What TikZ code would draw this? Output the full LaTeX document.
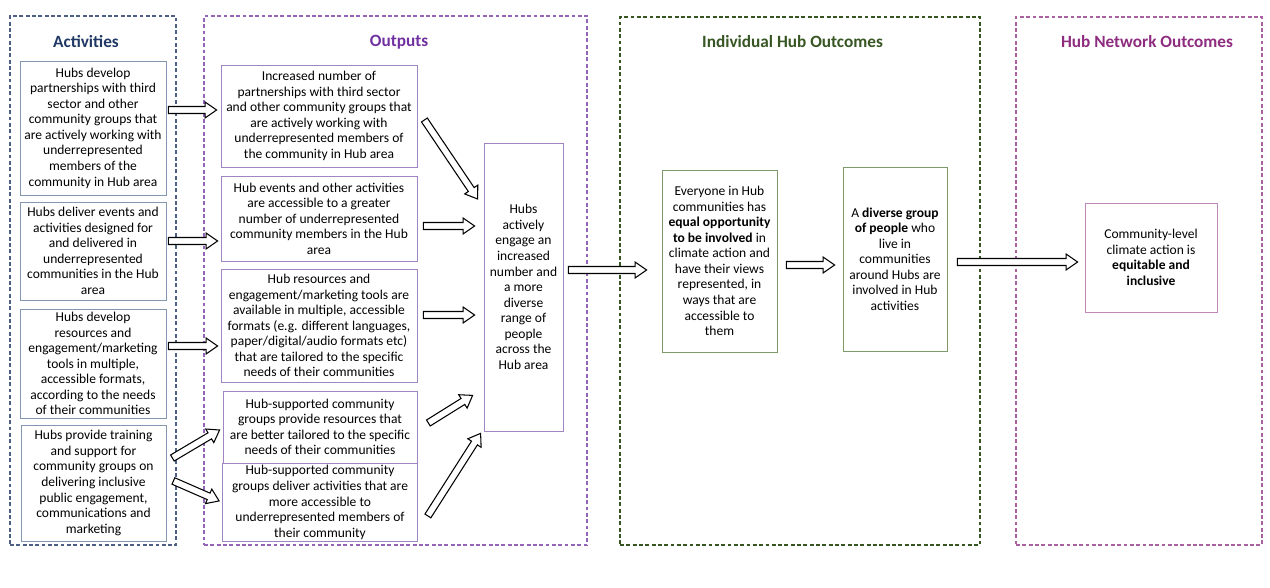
\documentclass[tikz,border=0pt]{standalone}
\usepackage{fontspec}
\setmainfont{Carlito}
\usepackage{xcolor}
\usepackage{tikz}
\usetikzlibrary{calc,positioning}
\definecolor{hubblue}{HTML}{203864}
\definecolor{hubbluegray}{HTML}{8497B0}
\definecolor{hubpurple}{HTML}{7030A0}
\definecolor{hublavender}{HTML}{9F86C0}
\definecolor{hubgreen}{HTML}{375623}
\definecolor{hubsage}{HTML}{7E9A6C}
\definecolor{hubplum}{HTML}{8E2C80}
\definecolor{hubpink}{HTML}{C08AB8}

\begin{document}
\begin{tikzpicture}[
  frame/.style={draw=#1,line width=0.6pt,dash pattern=on 2.2pt off 1.4pt},
  heading/.style={font=\fontsize{9.8pt}{11pt}\selectfont\bfseries},
  card/.style={draw=#1,line width=0.45pt,align=center,inner sep=1pt,
               font=\fontsize{7.7pt}{8.85pt}\selectfont},
  actbox/.style={card=hubbluegray,minimum width=2.92cm},
  outbox/.style={card=hublavender},
  indbox/.style={card=hubsage},
  netbox/.style={card=hubpink},
  blockarrow/.style={draw=black,line width=0.6pt,fill=white,
    to path={let \p1=(\tikztostart),\p2=(\tikztotarget),
      \p3=($(\tikztotarget)!6.5pt!(\tikztostart)$) in
      ($(\p1)!2pt!90:(\p2)$) -- ($(\p3)!2pt!-90:(\p1)$) -- ($(\p3)!4.5pt!-90:(\p1)$)
      -- (\p2) -- ($(\p3)!4.5pt!90:(\p1)$) -- ($(\p3)!2pt!90:(\p1)$)
      -- ($(\p1)!2pt!-90:(\p2)$) -- cycle}}
]
  \useasboundingbox (0,0) rectangle (25.4,-11.76);

  % dashed columns
  \node[frame=hubblue!80,minimum width=3.32cm,minimum height=10.58cm] (actframe) at (1.86,-5.61) {};
  \node[frame=hubpurple!75,minimum width=7.66cm,minimum height=10.58cm] (outframe) at (7.91,-5.61) {};
  \node[frame=hubgreen,minimum width=7.2cm,minimum height=10.56cm] (indframe) at (16.0,-5.62) {};
  \node[frame=hubplum!75,minimum width=4.92cm,minimum height=10.56cm] (netframe) at (22.78,-5.62) {};

  \node[heading,text=hubblue] (acttitle) at (1.72,-0.84) {Activities};
  \node[heading,text=hubpurple] (outtitle) at (7.98,-0.84) {Outputs};
  \node[heading,text=hubgreen] (indtitle) at (15.85,-0.84) {Individual Hub Outcomes};
  \node[heading,text=hubplum] (nettitle) at (22.94,-0.84) {Hub Network Outcomes};

  % activities
  \node[actbox,minimum height=2.68cm] (a1) at (1.86,-2.56)
    {Hubs develop\\partnerships with third\\sector and other\\community groups that\\are actively working with\\underrepresented\\members of the\\community in Hub area};
  \node[actbox,minimum height=1.96cm] (a2) at (1.86,-5.02)
    {Hubs deliver events and\\activities designed for\\and delivered in\\underrepresented\\communities in the Hub\\area};
  \node[actbox,minimum height=2.18cm] (a3) at (1.86,-7.27)
    {Hubs develop\\resources and\\engagement/marketing\\tools in multiple,\\accessible formats,\\according to the needs\\of their communities};
  \node[actbox,minimum width=2.9cm,minimum height=2.32cm] (a4) at (1.87,-9.66)
    {Hubs provide training\\and support for\\community groups on\\delivering inclusive\\public engagement,\\communications and\\marketing};

  % outputs
  \node[outbox,minimum width=3.92cm,minimum height=2.04cm] (o1) at (6.38,-2.32)
    {Increased number of\\partnerships with third sector\\and other community groups that\\are actively working with\\underrepresented members of\\the community in Hub area};
  \node[outbox,minimum width=3.92cm,minimum height=1.70cm] (o2) at (6.38,-4.37)
    {Hub events and other activities\\are accessible to a greater\\number of underrepresented\\community members in the Hub\\area};
  \node[outbox,minimum width=3.92cm,minimum height=2.26cm] (o3) at (6.38,-6.51)
    {Hub resources and\\engagement/marketing tools are\\available in multiple, accessible\\formats (e.g. different languages,\\paper/digital/audio formats etc)\\that are tailored to the specific\\needs of their communities};
  \node[outbox,minimum width=3.88cm,minimum height=1.44cm] (o4) at (6.40,-8.54)
    {Hub-supported community\\groups provide resources that\\are better tailored to the specific\\needs of their communities};
  \node[outbox,minimum width=3.9cm,minimum height=1.54cm,below=0pt of o4] (o5)
    {Hub-supported community\\groups deliver activities that are\\more accessible to\\underrepresented members of\\their community};
  \node[outbox,minimum width=1.58cm,minimum height=5.76cm] (c) at (10.47,-5.74)
    {Hubs\\actively\\engage an\\increased\\number and\\a more\\diverse\\range of\\people\\across the\\Hub area};

  % outcomes
  \node[indbox,minimum width=2.3cm,minimum height=3.64cm] (e1) at (14.39,-5.22)
    {Everyone in Hub\\communities has\\\textbf{equal opportunity}\\\textbf{to be involved} in\\climate action and\\have their views\\represented, in\\ways that are\\accessible to\\them};
  \node[indbox,minimum width=2.08cm,minimum height=3.68cm] (e2) at (17.9,-5.18)
    {A \textbf{diverse group}\\\textbf{of people} who\\live in\\communities\\around Hubs are\\involved in Hub\\activities};
  \node[netbox,minimum width=2.64cm,minimum height=2.18cm] (n1) at (23.02,-5.15)
    {Community-level\\climate action is\\\textbf{equitable and}\\\textbf{inclusive}};

  % block arrows
  \draw[blockarrow] ([shift={(0.04,0.36)}]a1.east) to ([shift={(-0.08,0.12)}]o1.west);
  \draw[blockarrow] ([shift={(0.04,0.2)}]a2.east) to ([shift={(-0.06,-0.45)}]o2.west);
  \draw[blockarrow] ([shift={(0.04,0.35)}]a3.east) to ([shift={(-0.06,-0.41)}]o3.west);
  \draw[blockarrow] ([shift={(0.12,0.5)}]a4.east) to ([shift={(-0.06,-0.06)}]o4.west);
  \draw[blockarrow] ([shift={(0.14,0.04)}]a4.east) to ([shift={(-0.06,0.03)}]o5.west);
  \draw[blockarrow] ([shift={(0.14,-0.08)}]o1.east) to ([shift={(-0.12,1.76)}]c.west);
  \draw[blockarrow] ([shift={(0.12,-0.15)}]o2.east) to ([shift={(-0.18,1.22)}]c.west);
  \draw[blockarrow] ([shift={(0.12,0.21)}]o3.east) to ([shift={(-0.18,-0.56)}]c.west);
  \draw[blockarrow] ([shift={(0.22,0.08)}]o4.east) to ([shift={(-0.22,0.72)}]c.south west);
  \draw[blockarrow] ([shift={(0.2,-0.27)}]o5.east) to ([shift={(-0.06,-0.04)}]c.south west);
  \draw[blockarrow] ([shift={(0.1,0.34)}]c.east) to ([shift={(-0.3,-0.18)}]e1.west);
  \draw[blockarrow] ([shift={(0.18,-0.08)}]e1.east) to ([shift={(-0.16,-0.12)}]e2.west);
  \draw[blockarrow] ([shift={(0.2,-0.06)}]e2.east) to ([shift={(-0.14,-0.09)}]n1.west);
\end{tikzpicture}
\end{document}
